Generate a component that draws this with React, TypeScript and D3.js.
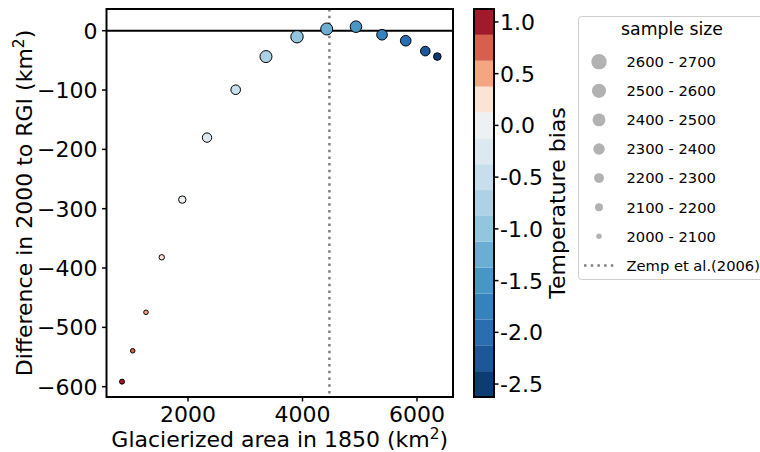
import React from 'react';
import * as d3 from 'd3';

// ---- data ----
const area1850 = [847, 1034, 1266, 1541, 1900, 2332, 2833, 3362, 3904, 4423, 4934, 5389, 5803, 6145, 6355];
const diffTo2000 = [-591.5, -539.5, -474.6, -381.9, -284.7, -180.2, -99.5, -43.6, -10.2, 2.9, 6.8, -6.8, -16.9, -34.4, -43.6];
const tempBias = [1.0, 0.75, 0.5, 0.25, 0, -0.25, -0.5, -0.75, -1.0, -1.25, -1.5, -1.75, -2.0, -2.25, -2.5];
const sampleSize = [2038, 2026, 2026, 2050, 2124, 2222, 2233, 2384, 2412, 2384, 2356, 2292, 2292, 2233, 2133];
const zempArea = 4470;

const xTicks = [2000, 4000, 6000];
const yTicks = [0, -100, -200, -300, -400, -500, -600];
const cbTicks = [1.0, 0.5, 0.0, -0.5, -1.0, -1.5, -2.0, -2.5];
const legendLabels = ['2600 - 2700', '2500 - 2600', '2400 - 2500', '2300 - 2400', '2200 - 2300', '2100 - 2200', '2000 - 2100'];
const legendSizes = [2650, 2550, 2450, 2350, 2250, 2150, 2050];

// ---- styles ----
const palette = [
  '#0b3d72', '#1b5799', '#2a6db0', '#3682bd', '#4896c6', '#6aafd3', '#92c5de', '#add2e5',
  '#c7deec', '#dde9f1', '#eef1f4', '#fbe3d6', '#f4a582', '#d6604d', '#a11a2c',
];
const FONT = 'DejaVu Sans';

export default function App() {
  const left = 106.5, right = 453, top = 9, bottom = 397;
  const x = d3.scaleLinear().domain([576, 6629]).range([left, right]);
  const y = d3.scaleLinear().domain([-617.4, 36.6]).range([bottom, top]);
  const cbDomain: [number, number] = [-2.625, 1.125];
  const color = d3.scaleQuantize<string>().domain(cbDomain).range(palette);
  const cbY = d3.scaleLinear().domain(cbDomain).range([bottom, top]);
  const rScale = d3.scaleSqrt().domain([0, 735]).range([0, 7.95]);
  const r = (n: number) => rScale(n - 1965);

  const cbX0 = 474, cbX1 = 494;
  const binW = (cbDomain[1] - cbDomain[0]) / palette.length;

  const legX = 578.5, legY = 16.5;
  const rowY = (i: number) => 61.7 + i * 29.1;

  return (
    <svg width={760} height={452} style={{ position: 'absolute', left: 0, top: 0 }} fontFamily={FONT}>
      <rect x={0} y={0} width={760} height={452} fill="#fff" />
      {/* reference lines */}
      <line x1={left} x2={right} y1={y(0)} y2={y(0)} stroke="#000" strokeWidth={2} />
      <line x1={x(zempArea)} x2={x(zempArea)} y1={top} y2={bottom} stroke="#808080" strokeWidth={2.5} strokeDasharray="2.5,4.2" />
      {/* points */}
      {area1850.map((a, i) => (
        <circle key={i} cx={x(a)} cy={y(diffTo2000[i])} r={r(sampleSize[i])} fill={color(tempBias[i])} stroke="#000" strokeWidth={1} />
      ))}
      {/* frame */}
      <rect x={left} y={top} width={right - left} height={bottom - top} fill="none" stroke="#000" strokeWidth={2} />
      {/* x axis */}
      {xTicks.map((t) => (
        <g key={t}>
          <line x1={x(t)} x2={x(t)} y1={bottom} y2={bottom + 4.5} stroke="#000" strokeWidth={1.5} />
          <text x={x(t)} y={421.5} textAnchor="middle" fontSize={22}>{t}</text>
        </g>
      ))}
      <text x={(left + right) / 2} y={446.5} textAnchor="middle" fontSize={22}>
        Glacierized area in 1850 (km<tspan dy={-8} fontSize={15.4}>2</tspan><tspan dy={8}>)</tspan>
      </text>
      {/* y axis */}
      {yTicks.map((t) => (
        <g key={t}>
          <line x1={left - 4.5} x2={left} y1={y(t)} y2={y(t)} stroke="#000" strokeWidth={1.5} />
          <text x={97.5} y={y(t) + 8} textAnchor="end" fontSize={22}>{t < 0 ? '\u2212' + Math.abs(t) : String(t)}</text>
        </g>
      ))}
      <text transform={`translate(32,${(top + bottom) / 2}) rotate(-90)`} textAnchor="middle" fontSize={22}>
        Difference in 2000 to RGI (km<tspan dy={-8} fontSize={15.4}>2</tspan><tspan dy={8}>)</tspan>
      </text>
      {/* colorbar */}
      {palette.map((c, i) => {
        const v0 = cbDomain[0] + i * binW;
        const v1 = v0 + binW;
        return <rect key={i} x={cbX0} width={cbX1 - cbX0} y={cbY(v1)} height={cbY(v0) - cbY(v1)} fill={c} />;
      })}
      <rect x={cbX0} y={top} width={cbX1 - cbX0} height={bottom - top} fill="none" stroke="#000" strokeWidth={2} />
      {cbTicks.map((t) => (
        <g key={t}>
          <line x1={cbX1} x2={cbX1 + 4.5} y1={cbY(t)} y2={cbY(t)} stroke="#000" strokeWidth={1.5} />
          <text x={500} y={cbY(t) + 8} fontSize={22}>{t.toFixed(1)}</text>
        </g>
      ))}
      <text transform={`translate(565,${(top + bottom) / 2}) rotate(-90)`} textAnchor="middle" fontSize={22}>Temperature bias</text>
      {/* legend */}
      <rect x={legX} y={legY} width={200} height={263} rx={3} fill="#fff" stroke="#cccccc" strokeWidth={1} />
      <text x={672} y={35} textAnchor="middle" fontSize={17.3}>sample size</text>
      {legendLabels.map((l, i) => (
        <g key={l}>
          <circle cx={599} cy={rowY(i)} r={r(legendSizes[i])} fill="#b2b2b2" />
          <text x={626.5} y={rowY(i) + 5.3} fontSize={14.7}>{l}</text>
        </g>
      ))}
      <line x1={584} x2={614} y1={rowY(7)} y2={rowY(7)} stroke="#808080" strokeWidth={2.5} strokeDasharray="2.5,4.2" />
      <text x={626.5} y={rowY(7) + 5.3} fontSize={14.7}>Zemp et al.(2006)</text>
    </svg>
  );
}
